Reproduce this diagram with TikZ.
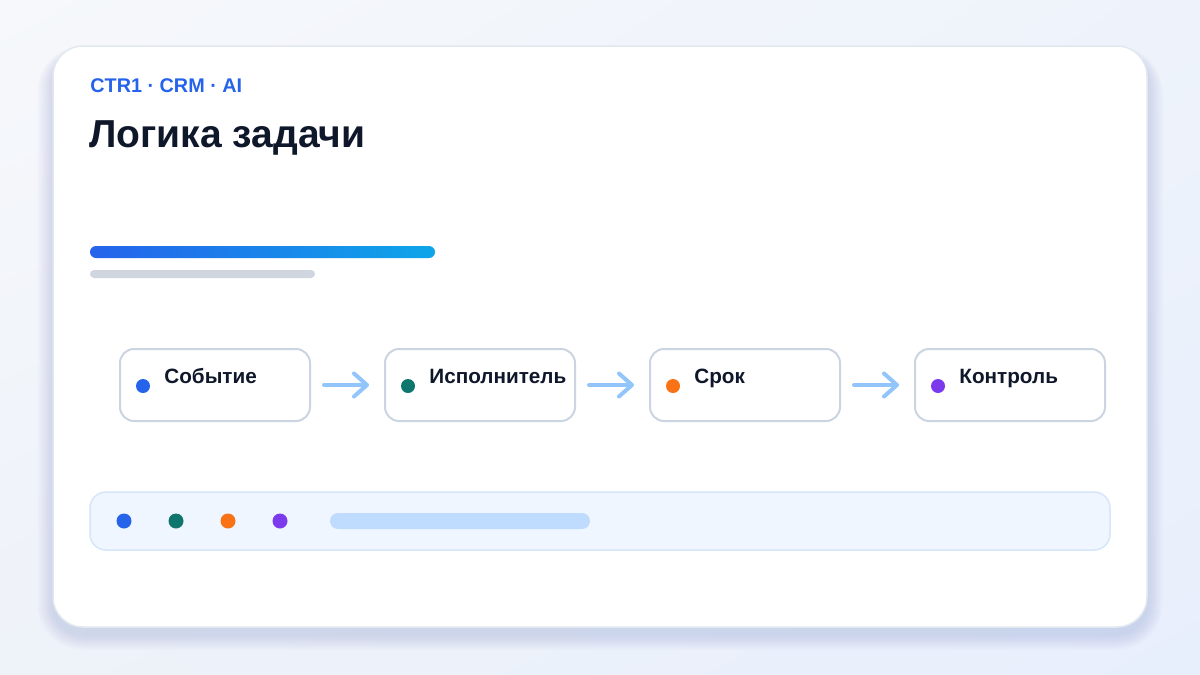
\documentclass[tikz,border=0pt]{standalone}
\usepackage{fontspec}
\setmainfont{Liberation Sans}
\usetikzlibrary{arrows.meta,shadings}
\definecolor{bgA}{HTML}{F6F8FB}
\definecolor{bgB}{HTML}{EEF3FB}
\definecolor{bgC}{HTML}{EEF2F9}
\definecolor{bgD}{HTML}{E8EFFC}
\definecolor{shadowc}{HTML}{8A9BC0}
\definecolor{cardborder}{HTML}{E2E8F0}
\definecolor{hdrblue}{HTML}{2563EB}
\definecolor{titlec}{HTML}{0F172A}
\definecolor{gradA}{HTML}{2563EB}
\definecolor{gradB}{HTML}{0EA5E9}
\definecolor{grayline}{HTML}{CFD6E0}
\definecolor{boxborder}{HTML}{CBD5E1}
\definecolor{arrowc}{HTML}{93C5FD}
\definecolor{barfill}{HTML}{EFF6FF}
\definecolor{barborder}{HTML}{D6E6FA}
\definecolor{pillc}{HTML}{BFDBFE}
\definecolor{cA}{HTML}{2563EB}
\definecolor{cB}{HTML}{0F766E}
\definecolor{cC}{HTML}{F97316}
\definecolor{cD}{HTML}{7C3AED}
\begin{document}
\begin{tikzpicture}[x=0.5pt,y=-0.5pt,
  stepbox/.style={draw=boxborder, line width=1pt, fill=white, rounded corners=7pt,
    minimum width=95pt, minimum height=36pt, inner sep=0pt},
  dotnode/.style={circle, inner sep=0pt, minimum size=7pt},
  bigdot/.style={circle, inner sep=0pt, minimum size=7.5pt},
  lab/.style={anchor=base west, inner sep=0pt, text=titlec, font=\bfseries\fontsize{10.35}{12}\selectfont},
  arr/.style={draw=arrowc, line width=2pt, line cap=round,
    -{Straight Barb[length=6.5pt, width=11.5pt, round]}, shorten <=6.5pt, shorten >=7.5pt}
]
\useasboundingbox (0,0) rectangle (1200,675);
\shade[upper left=bgA, upper right=bgB, lower left=bgC, lower right=bgD] (0,0) rectangle (1200,675);
% soft shadow
\foreach \i in {1,...,16}{
  \pgfmathsetmacro{\rr}{(30+\i)*0.5}
  \fill[shadowc, opacity=0.015, rounded corners=\rr pt] ({53-\i},{54-\i*0.5}) rectangle ({1147+\i},{634+\i});
}
% card
\draw[cardborder, line width=0.75pt, fill=white, rounded corners=15pt] (53,46) rectangle (1147,627);
% header
\node[anchor=base west, inner sep=0pt, text=hdrblue, font=\bfseries\fontsize{9.9}{12}\selectfont] (hdr) at (90,92) {CTR1 · CRM · AI};
\node[anchor=base west, inner sep=0pt, text=titlec, font=\bfseries\fontsize{19.5}{23}\selectfont] (title) at (89,147) {Логика задачи};
% bars
\shade[left color=gradA, right color=gradB, rounded corners=3pt] (90,246) rectangle (435,258);
\fill[grayline, rounded corners=2pt] (90,270) rectangle (315,278);
% steps
\node[stepbox] (b1) at (215,385) {};
\node[stepbox] (b2) at (480,385) {};
\node[stepbox] (b3) at (745,385) {};
\node[stepbox] (b4) at (1010,385) {};
\node[dotnode, fill=cA] (d1) at ([xshift=12pt,yshift=-0.5pt]b1.west) {};
\node[dotnode, fill=cB] (d2) at ([xshift=12pt,yshift=-0.5pt]b2.west) {};
\node[dotnode, fill=cC] (d3) at ([xshift=12pt,yshift=-0.5pt]b3.west) {};
\node[dotnode, fill=cD] (d4) at ([xshift=12pt,yshift=-0.5pt]b4.west) {};
\node[lab] (l1) at ([xshift=22.5pt,yshift=1pt]b1.west) {Событие};
\node[lab] (l2) at ([xshift=22.5pt,yshift=1pt]b2.west) {Исполнитель};
\node[lab] (l3) at ([xshift=22.5pt,yshift=1pt]b3.west) {Срок};
\node[lab] (l4) at ([xshift=22.5pt,yshift=1pt]b4.west) {Контроль};
\draw[arr] (b1.east) -- (b2.west);
\draw[arr] (b2.east) -- (b3.west);
\draw[arr] (b3.east) -- (b4.west);
% bottom bar
\node[draw=barborder, line width=0.75pt, fill=barfill, rounded corners=8pt, minimum width=510pt, minimum height=29pt, inner sep=0pt] (bar) at (600,521) {};
\node[bigdot, fill=cA] (e1) at (124,521) {};
\node[bigdot, fill=cB] (e2) at (176,521) {};
\node[bigdot, fill=cC] (e3) at (228,521) {};
\node[bigdot, fill=cD] (e4) at (280,521) {};
\node[fill=pillc, rounded corners=4pt, minimum width=130pt, minimum height=8pt, inner sep=0pt] (pill) at (460,521) {};
\end{tikzpicture}
\end{document}
